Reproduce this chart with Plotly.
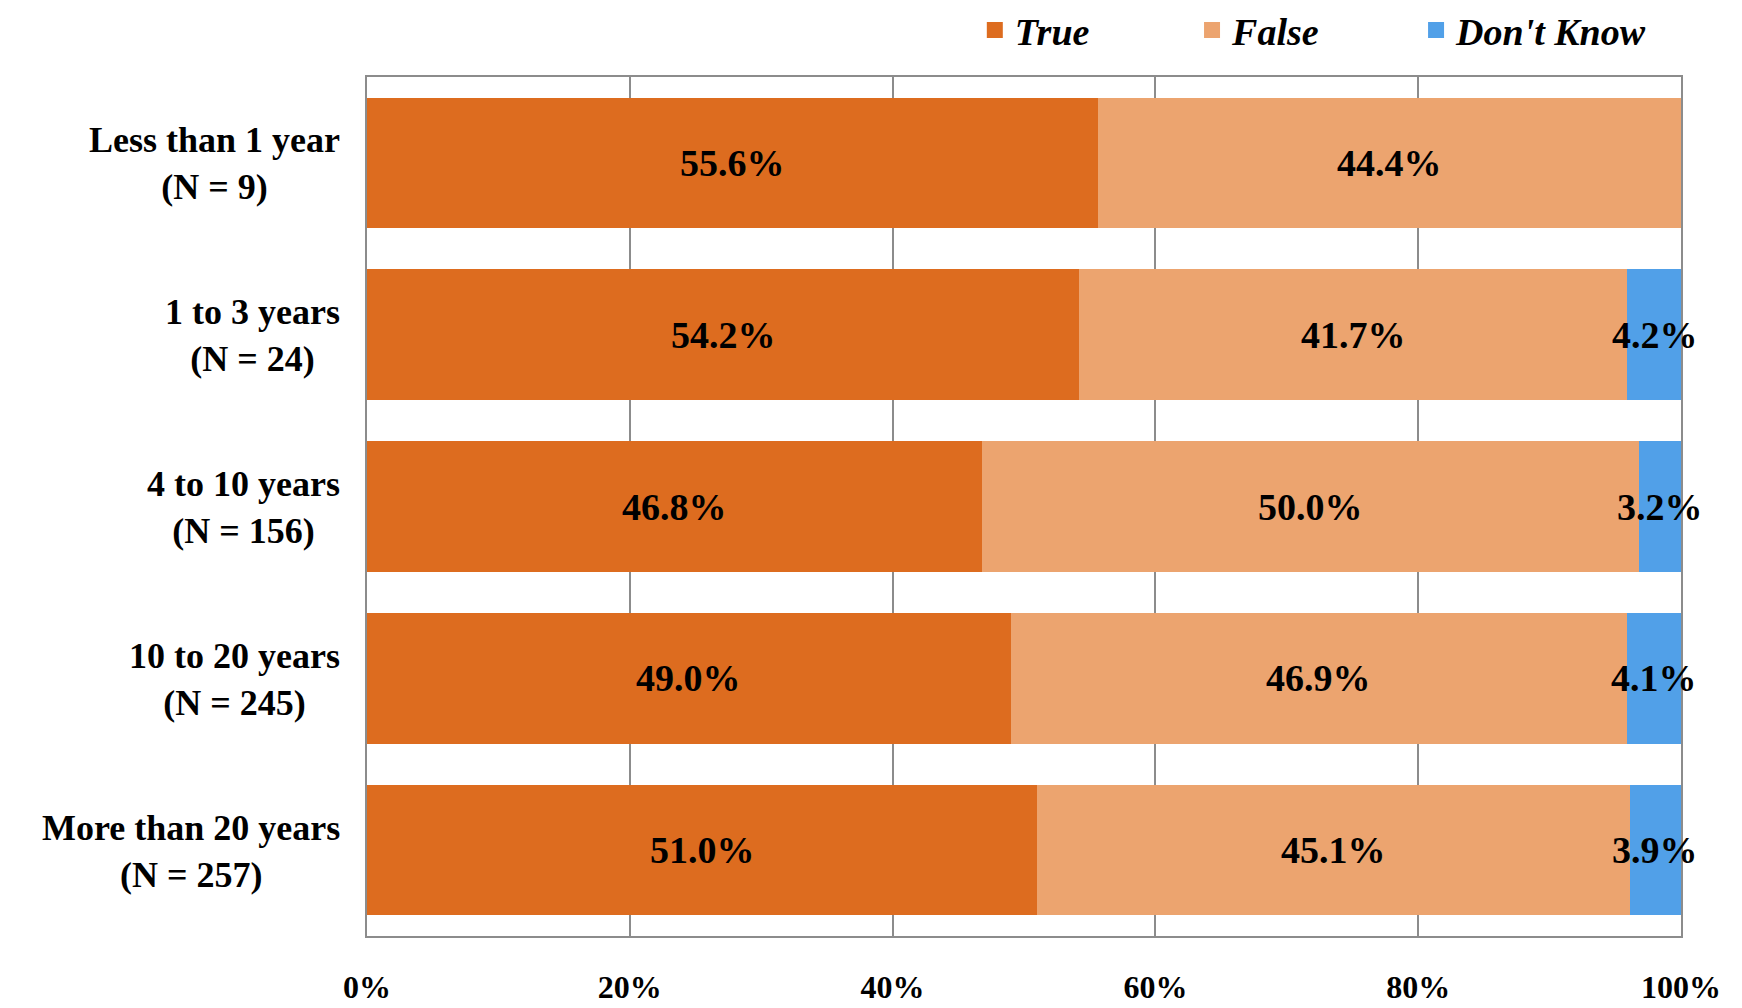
import plotly.graph_objects as go

categories = ["Less than 1 year", "1 to 3 years", "4 to 10 years", "10 to 20 years", "More than 20 years"]
n_counts = [9, 24, 156, 245, 257]
true_vals = [55.6, 54.2, 46.8, 49.0, 51.0]
false_vals = [44.4, 41.7, 50.0, 46.9, 45.1]
dk_vals = [0.0, 4.2, 3.2, 4.1, 3.9]
x_ticks = [0, 20, 40, 60, 80, 100]

FONT = "Liberation Serif"
series = [("True", true_vals, "#DD6C1F"), ("False", false_vals, "#ECA46F"), ("Don't Know", dk_vals, "#51A0E8")]
legend_ids = ["legend", "legend2", "legend3"]
legend_x = [0.555, 0.6797, 0.8083]

fig = go.Figure()
base = [0.0] * len(categories)
for (name, vals, col), lid in zip(series, legend_ids):
    fig.add_trace(go.Bar(
        y=categories, x=vals, name=name, orientation="h",
        marker=dict(color=col, line=dict(width=0)),
        showlegend=False, hoverinfo="skip",
    ))
    # legend proxy with square symbol
    fig.add_trace(go.Scatter(
        x=[None], y=[None], mode="markers", name=name,
        marker=dict(symbol="square", size=22, color=col),
        showlegend=True, hoverinfo="skip", legend=lid,
    ))
    for i, (cat, v) in enumerate(zip(categories, vals)):
        if v > 0:
            fig.add_annotation(
                x=base[i] + v / 2, y=cat, xref="x", yref="y",
                text=f"{v:.1f}%", showarrow=False,
                font=dict(family=FONT, size=38, color="black", weight="bold"),
            )
        base[i] += v

for cat, n in zip(categories, n_counts):
    fig.add_annotation(
        x=0, xref="paper", y=cat, yref="y", xanchor="right", xshift=-25, yshift=-1,
        text=f"{cat}<br>(N = {n})", showarrow=False, align="center",
        font=dict(family=FONT, size=36, color="black", weight="bold"),
    )

leg_font = dict(family=FONT, size=38, color="black", weight="bold", style="italic")
legends = {}
for lid, lx in zip(legend_ids, legend_x):
    legends[lid] = dict(
        orientation="h", xref="container", yref="container",
        x=lx, xanchor="left", y=0.978, yanchor="middle",
        bgcolor="rgba(0,0,0,0)", font=leg_font, itemwidth=30,
    )

fig.update_layout(
    barmode="stack", bargap=0.24,
    width=1742, height=1008,
    margin=dict(l=359, r=69, t=69, b=80),
    paper_bgcolor="white", plot_bgcolor="white",
    xaxis=dict(
        range=[0, 100], tickvals=x_ticks, ticktext=[f"{t}%" for t in x_ticks],
        showgrid=True, gridcolor="#8C8C8C", gridwidth=1.5,
        showline=True, linecolor="#8C8C8C", linewidth=2, mirror=True,
        ticks="outside", ticklen=22, tickcolor="white",
        tickfont=dict(family=FONT, size=32, color="black", weight="bold"),
        zeroline=False, automargin=False,
    ),
    yaxis=dict(
        autorange="reversed", showticklabels=False,
        showline=True, linecolor="#8C8C8C", linewidth=2, mirror=True,
        automargin=False,
    ),
    showlegend=True,
    **legends,
)

fig.write_html("out.html")
